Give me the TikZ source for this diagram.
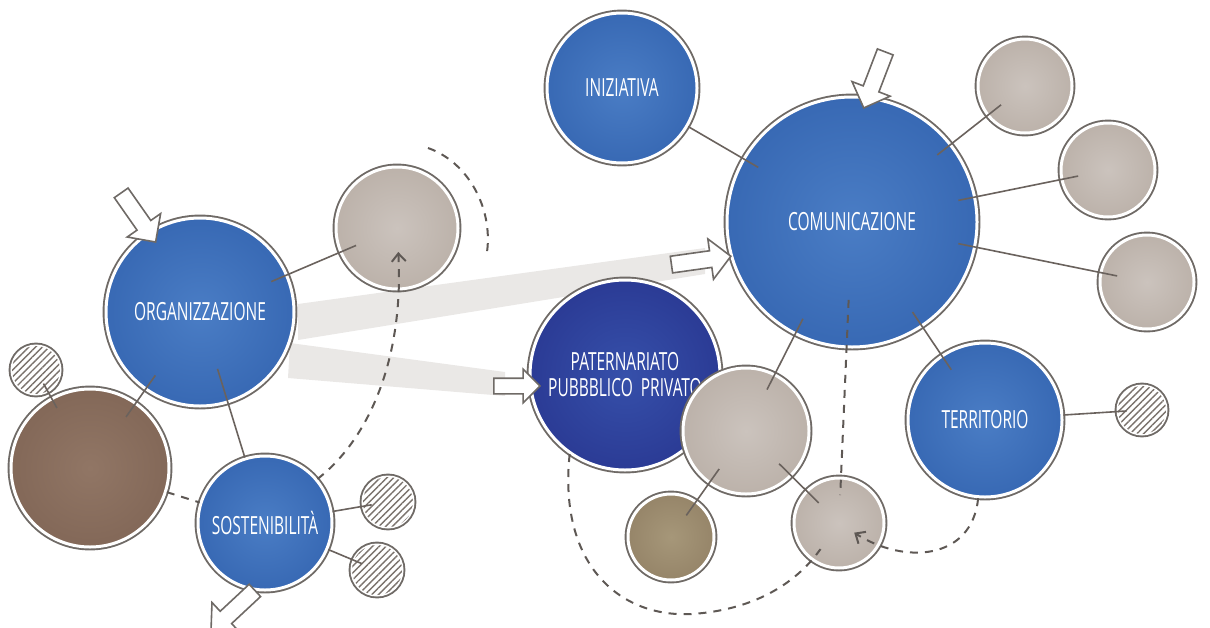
\documentclass[tikz,border=0pt]{standalone}
\usepackage{fontspec}
\newfontfamily\handfont[FakeStretch=0.62]{Open Sans}
\usetikzlibrary{arrows.meta,positioning,calc,shapes.arrows,patterns,patterns.meta}
\definecolor{ringgray}{HTML}{6F6A66}
\definecolor{linkgray}{HTML}{6A625D}
\definecolor{dashgray}{HTML}{5E5854}
\definecolor{bandgray}{HTML}{EAE8E6}
\definecolor{hatchgray}{HTML}{7A726C}
\definecolor{inkblue}{HTML}{3869B4}
\definecolor{inkbluelt}{HTML}{4A7DC5}
\definecolor{inknavy}{HTML}{2B3B95}
\definecolor{inknavylt}{HTML}{3650AA}
\definecolor{stone}{HTML}{BCB2AA}
\definecolor{stonelt}{HTML}{CBC3BD}
\definecolor{umber}{HTML}{836858}
\definecolor{umberlt}{HTML}{917665}
\definecolor{khaki}{HTML}{968569}
\definecolor{khakilt}{HTML}{A69779}

\begin{document}
\begin{tikzpicture}[x=0.5pt, y=-0.5pt,
    bub/.style={circle, inner sep=0pt, minimum size=#1pt, draw=white,
                line width=1.5pt, preaction={draw=ringgray, line width=3.4pt}},
    ink/.style={inner color=#1lt, outer color=#1},
    lbl/.style={text=white, font=\handfont\fontsize{12.5}{13}\selectfont, align=center},
    hatch/.style={bub=#1, fill=white,
                  postaction={pattern={Lines[angle=45,distance=2.4pt,line width=0.7pt]},
                              pattern color=hatchgray}},
    link/.style={draw=linkgray, line width=0.8pt, shorten <=-9pt, shorten >=-9pt},
    trail/.style={draw=dashgray, line width=1pt, dash pattern=on 4pt off 3.5pt},
    tip/.style={-{Straight Barb[length=4pt,width=7pt]}},
    arr/.style={single arrow, draw=ringgray, fill=white, line width=0.8pt,
                inner xsep=0pt, inner ysep=3.8pt, minimum width=0pt, minimum height=30pt,
                single arrow head extend=6pt, single arrow head indent=0pt},
    band/.style={fill=bandgray}
  ]
    \useasboundingbox (0,0) rectangle (1210,627);

    % light bands from the left cluster
    \fill[band] (298,304) -- (705,248) -- (705,274) -- (298,340) -- cycle;
    \fill[band] (290,343) -- (505,372) -- (505,396) -- (288,378) -- cycle;

    % left cluster
    \node[bub=94, ink=inkblue, lbl] (org) at (200,312) {ORGANIZZAZIONE};
    \node[bub=61, ink=stone] (grayA) at (397,228) {};
    \node[hatch=24] (hatchA) at (36,370) {};
    \node[bub=79, ink=umber] (brown) at (90,468) {};
    \node[bub=67, ink=inkblue, lbl] (sost) at (265,523) {SOSTENIBILIT\`A};
    \node[hatch=25] (hatchB) at (388,502) {};
    \node[hatch=25] (hatchC) at (377,570) {};

    % right cluster
    \node[bub=75, ink=inkblue, lbl] (iniz) at (622,88) {INIZIATIVA};
    \node[bub=125, ink=inkblue, lbl] (com) at (852,222) {COMUNICAZIONE};
    \node[bub=47, ink=stone] (grayB) at (1025,86) {};
    \node[bub=47, ink=stone] (grayC) at (1108,170) {};
    \node[bub=47, ink=stone] (grayD) at (1147,282) {};
    \node[bub=95, ink=inknavy, lbl] (pat) at (625,375) {PATERNARIATO\\PUBBBLICO\ \ PRIVATO};
    \node[bub=63, ink=stone] (grayE) at (746,431) {};
    \node[bub=43, ink=khaki] (olive) at (671,537) {};
    \node[bub=45, ink=stone] (grayF) at (839,523) {};
    \node[bub=77, ink=inkblue, lbl] (terr) at (985,420) {TERRITORIO};
    \node[hatch=24] (hatchD) at (1142,410) {};

    % links
    \draw[link] (org) -- (grayA);
    \draw[link] (org) -- (brown);
    \draw[link, shorten <=-18pt, shorten >=0pt] (org) -- (sost);
    \draw[link, shorten <=-5pt, shorten >=-6pt] (hatchA) -- (brown);
    \draw[link, shorten <=0pt, shorten >=-5pt] (sost) -- (hatchB);
    \draw[link, shorten <=0pt, shorten >=-5pt] (sost) -- (hatchC);
    \draw[link, shorten <=0pt] (iniz) -- (com);
    \draw[link] (com) -- (grayB);
    \draw[link] (com) -- (grayC);
    \draw[link] (com) -- (grayD);
    \draw[link] (com) -- (grayE);
    \draw[link] (com) -- (terr);
    \draw[link] (grayE) -- (olive);
    \draw[link] (grayE) -- (grayF);
    \draw[link, shorten <=0pt, shorten >=-5pt] (terr) -- (hatchD);

    % dashed paths
    \coordinate (arcA) at (428,148);
    \coordinate (arcB) at (487,252);
    \draw[trail] (arcA) .. controls (468,162) and (493,208) .. (arcB);
    \draw[trail, tip, shorten >=12pt] (sost.40) .. controls (368,440) and (404,360) .. (grayA.center);
    \draw[trail] (brown) -- (sost);
    \draw[trail, shorten <=39pt, shorten >=14pt] (com.center) -- (grayF.center);
    \draw[trail, shorten >=16pt] (pat.235) .. controls (558,565) and (620,618) .. (692,614)
          .. controls (752,610) and (795,585) .. (grayF.center);
    \draw[trail, tip, shorten >=9pt] (terr.265) .. controls (972,560) and (905,565) .. (grayF.center);

    % hollow arrows
    \node[arr, rotate=-55] (inOrg) at (136,214) {};
    \node[arr, rotate=-111] (inCom) at (876,76) {};
    \node[arr, rotate=8] (toCom) at (697,261) {};
    \node[arr, minimum height=23pt, inner ysep=3.5pt, single arrow head extend=4.5pt] (toPat) at (513,386) {};
    \node[arr, rotate=-137] (outSost) at (236,608) {};
\end{tikzpicture}
\end{document}
